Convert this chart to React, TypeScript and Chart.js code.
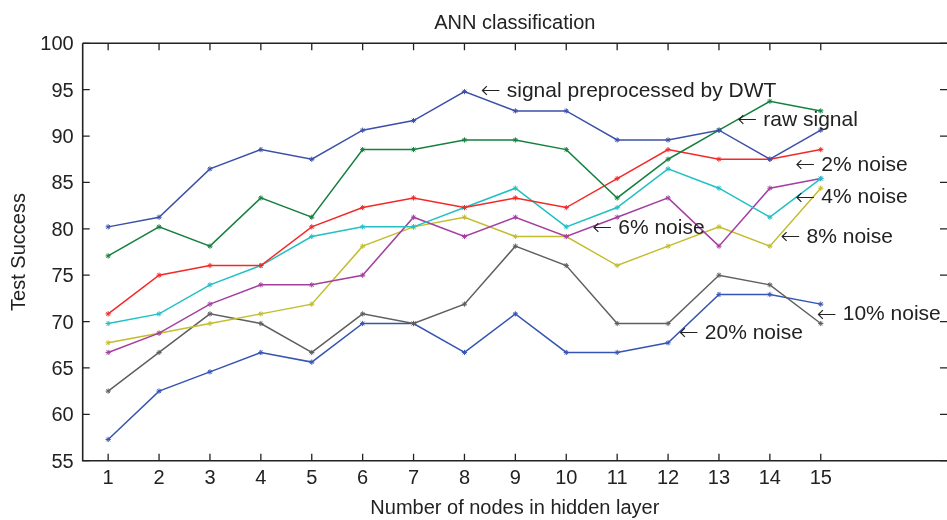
import React, { useEffect, useRef } from 'react';
import { Chart, registerables } from 'chart.js';

Chart.register(...registerables);

// ---- data ----
const nodes = [1, 2, 3, 4, 5, 6, 7, 8, 9, 10, 11, 12, 13, 14, 15];
const dwt = [80.21, 81.25, 86.46, 88.54, 87.5, 90.63, 91.67, 94.79, 92.71, 92.71, 89.58, 89.58, 90.63, 87.5, 90.63];
const rawSignal = [77.08, 80.21, 78.13, 83.33, 81.25, 88.54, 88.54, 89.58, 89.58, 88.54, 83.33, 87.5, 90.63, 93.75, 92.71];
const noise2 = [70.83, 75.0, 76.04, 76.04, 80.21, 82.29, 83.33, 82.29, 83.33, 82.29, 85.42, 88.54, 87.5, 87.5, 88.54];
const noise4 = [69.79, 70.83, 73.96, 76.04, 79.17, 80.21, 80.21, 82.29, 84.38, 80.21, 82.29, 86.46, 84.38, 81.25, 85.42];
const noise6 = [66.67, 68.75, 71.88, 73.96, 73.96, 75.0, 81.25, 79.17, 81.25, 79.17, 81.25, 83.33, 78.13, 84.38, 85.42];
const noise8 = [67.71, 68.75, 69.79, 70.83, 71.88, 78.13, 80.21, 81.25, 79.17, 79.17, 76.04, 78.13, 80.21, 78.13, 84.38];
const noise10 = [62.5, 66.67, 70.83, 69.79, 66.67, 70.83, 69.79, 71.88, 78.13, 76.04, 69.79, 69.79, 75.0, 73.96, 69.79];
const noise20 = [57.29, 62.5, 64.58, 66.67, 65.63, 69.79, 69.79, 66.67, 70.83, 66.67, 66.67, 67.71, 72.92, 72.92, 71.88];

const seriesNames = ['signal preprocessed by DWT', 'raw signal', '2% noise', '4% noise', '6% noise', '8% noise', '10% noise', '20% noise'];
const seriesValues = [dwt, rawSignal, noise2, noise4, noise6, noise8, noise10, noise20];
const seriesColors = ['#3b50a8', '#15803f', '#f52828', '#22c0c4', '#a43f9f', '#c2bd2c', '#5f5f5f', '#3654b2'];

// annotation anchors in data units (arrow start)
const labelX = [8.34, 13.38, 14.52, 14.52, 10.53, 14.23, 14.94, 12.23];
const labelY = [94.86, 91.73, 86.88, 83.4, 80.06, 79.09, 70.78, 68.74];

const xTicks = [1, 2, 3, 4, 5, 6, 7, 8, 9, 10, 11, 12, 13, 14, 15];
const yTicks = [55, 60, 65, 70, 75, 80, 85, 90, 95, 100];

const titleText = 'ANN classification';
const xTitle = 'Number of nodes in hidden layer';
const yTitle = 'Test Success';

const FONT = '"Liberation Sans", Arial, Helvetica, sans-serif';
const INK = '#222222';

const framePlugin = {
  id: 'matlabFrame',
  afterDraw(chart: any) {
    const ctx = chart.ctx;
    const { left, top, right, bottom } = chart.chartArea;
    const xs = chart.scales.x;
    const ys = chart.scales.y;
    ctx.save();
    ctx.strokeStyle = INK;
    ctx.lineWidth = 1.6;
    ctx.beginPath();
    ctx.moveTo(left, top);
    ctx.lineTo(right, top);
    ctx.moveTo(left, top);
    ctx.lineTo(left, bottom);
    ctx.lineTo(right, bottom);
    ctx.stroke();

    ctx.lineWidth = 1.3;
    ctx.beginPath();
    xTicks.forEach((v) => {
      const px = xs.getPixelForValue(v);
      ctx.moveTo(px, bottom);
      ctx.lineTo(px, bottom - 7);
      ctx.moveTo(px, top);
      ctx.lineTo(px, top + 7);
    });
    yTicks.forEach((v) => {
      const py = ys.getPixelForValue(v);
      ctx.moveTo(left, py);
      ctx.lineTo(left + 7, py);
      ctx.moveTo(right, py);
      ctx.lineTo(right - 7, py);
    });
    ctx.stroke();

    ctx.fillStyle = INK;
    ctx.font = `20px ${FONT}`;
    ctx.textBaseline = 'alphabetic';
    ctx.textAlign = 'center';
    xTicks.forEach((v) => {
      ctx.fillText(String(v), xs.getPixelForValue(v), bottom + 23.5);
    });
    ctx.textAlign = 'right';
    yTicks.forEach((v) => {
      ctx.fillText(String(v), left - 9, ys.getPixelForValue(v) + 7);
    });

    // titles
    ctx.textAlign = 'center';
    ctx.font = `20px ${FONT}`;
    ctx.fillText(titleText, (left + right) / 2, 28.5);
    ctx.fillText(xTitle, (left + right) / 2, 514);
    ctx.save();
    ctx.translate(25, (top + bottom) / 2);
    ctx.rotate(-Math.PI / 2);
    ctx.fillText(yTitle, 0, 0);
    ctx.restore();

    // annotations
    ctx.textAlign = 'left';
    ctx.textBaseline = 'middle';
    seriesNames.forEach((name, i) => {
      const px = xs.getPixelForValue(labelX[i]);
      const py = ys.getPixelForValue(labelY[i]);
      ctx.font = `200 24px "DejaVu Sans", sans-serif`;
      ctx.fillText('\u2190', px - 1, py + 1);
      ctx.font = `21px ${FONT}`;
      ctx.fillText(name, px + 25, py);
    });
    ctx.restore();
  },
};

export default function App() {
  const ref = useRef<HTMLCanvasElement | null>(null);
  useEffect(() => {
    if (!ref.current) return;
    const chart = new Chart(ref.current, {
      type: 'line',
      data: {
        datasets: seriesValues.map((vals, i) => ({
          label: seriesNames[i],
          data: nodes.map((n, j) => ({ x: n, y: vals[j] })),
          borderColor: seriesColors[i],
          backgroundColor: seriesColors[i],
          borderWidth: 1.5,
          pointStyle: 'star',
          pointRadius: 2.6,
          pointBorderWidth: 1,
          pointBorderColor: seriesColors[i],
          tension: 0,
          fill: false,
        })),
      },
      options: {
        animation: false,
        responsive: true,
        maintainAspectRatio: false,
        layout: { autoPadding: false, padding: { left: 82.7, top: 43.3, right: 0, bottom: 59.3 } },
        plugins: { legend: { display: false }, title: { display: false }, tooltip: { enabled: false } },
        scales: {
          x: { type: 'linear', min: 0.5, max: 17.48, display: false },
          y: { type: 'linear', min: 55, max: 100, display: false },
        },
      },
      plugins: [framePlugin],
    } as any);
    return () => chart.destroy();
  }, []);
  return (
    <div style={{ position: 'absolute', left: 0, top: 0, width: 947, height: 520, background: '#fff' }}>
      <canvas ref={ref} />
    </div>
  );
}
